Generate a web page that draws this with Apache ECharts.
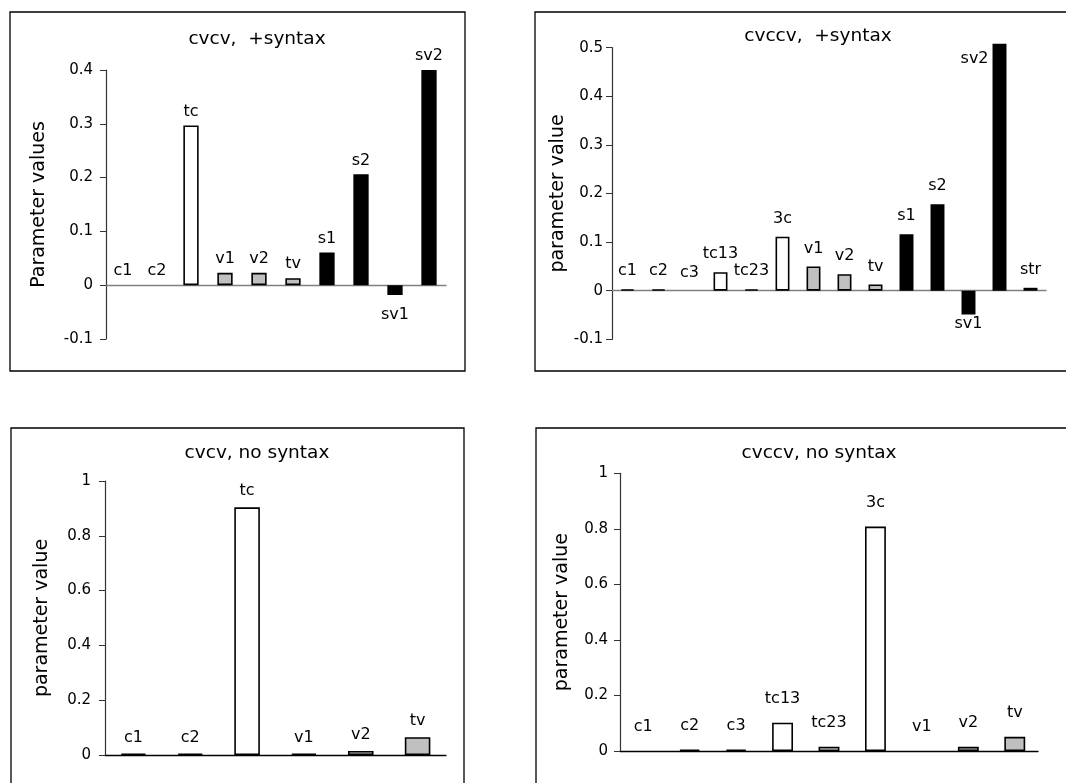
<!DOCTYPE html>
<html>
<head>
<meta charset="utf-8">
<script src="https://cdn.jsdelivr.net/npm/echarts@6/dist/echarts.min.js"></script>
<style>
html,body{margin:0;padding:0;background:#fff;}
#chart{width:1066px;height:783px;}
</style>
</head>
<body>
<div id="chart"></div>
<script>
// ---- data ----
const P1_TITLE = 'cvcv,  +syntax';
const P1_CATS = ['c1','c2','tc','v1','v2','tv','s1','s2','sv1','sv2'];
const P1_VALS = [0, 0, 0.297, 0.023, 0.023, 0.013, 0.061, 0.206, -0.018, 0.400];

const P2_TITLE = 'cvccv,  +syntax';
const P2_CATS = ['c1','c2','c3','tc13','tc23','3c','v1','v2','tv','s1','s2','sv1','sv2','str'];
const P2_VALS = [0.003, 0.003, 0, 0.038, 0.003, 0.111, 0.050, 0.034, 0.013, 0.116, 0.178, -0.049, 0.508, 0.006];

const P3_TITLE = 'cvcv, no syntax';
const P3_CATS = ['c1','c2','tc','v1','v2','tv'];
const P3_VALS = [0.005, 0.005, 0.904, 0.005, 0.015, 0.065];

const P4_TITLE = 'cvccv, no syntax';
const P4_CATS = ['c1','c2','c3','tc13','tc23','3c','v1','v2','tv'];
const P4_VALS = [0, 0.005, 0.005, 0.102, 0.015, 0.808, 0, 0.015, 0.051];

const Y_NAMES = ['Parameter values', 'parameter value', 'parameter value', 'parameter value'];
const Y_RANGES = [[-0.1, 0.4, 0.1], [-0.1, 0.5, 0.1], [0, 1, 0.2], [0, 1, 0.2]];

// ---- styling / layout ----
const FONT = '"DejaVu Sans", "Liberation Sans", Arial, sans-serif';
function fillFor(name) {
  if (name === 'str') return '#e4e4e4';
  if (name.charAt(0) === 's') return '#000000';
  if (name === 'v1' || name === 'v2' || name === 'tv') return '#c0c0c0';
  if (name === 'tc' || name === 'tc13' || name === 'tc23' || name === '3c') return '#ffffff';
  return '#000000';
}

const panels = [
  {title: P1_TITLE, cats: P1_CATS, vals: P1_VALS, grid: {left: 106, top: 70, width: 340, height: 269},
   titlePos: [257, 29.5], nameGap: 57, labelMargin: 13, xLine: '#808080', dist: 6, negDist: 12, frame: [10, 12, 455, 359]},
  {title: P2_TITLE, cats: P2_CATS, vals: P2_VALS, grid: {left: 612, top: 47.7, width: 434, height: 291.6},
   titlePos: [818, 27], nameGap: 44, labelMargin: 9, xLine: '#808080', dist: 10, negDist: 1, frame: [535, 12, 540, 359]},
  {title: P3_TITLE, cats: P3_CATS, vals: P3_VALS, grid: {left: 105, top: 481, width: 341, height: 274},
   titlePos: [257, 444], nameGap: 53, labelMargin: 14, xLine: '#000000', dist: 8, negDist: 5, frame: [11, 428, 453, 400]},
  {title: P4_TITLE, cats: P4_CATS, vals: P4_VALS, grid: {left: 620, top: 473.3, width: 418, height: 277.7},
   titlePos: [819, 444], nameGap: 48, labelMargin: 12, xLine: '#000000', dist: 16, negDist: 5, frame: [536, 428, 540, 400]}
];

const option = {
  backgroundColor: '#ffffff',
  animation: false,
  textStyle: {fontFamily: FONT},
  title: [], grid: [], xAxis: [], yAxis: [], series: [],
  graphic: []
};

panels.forEach(function (p, i) {
  option.graphic.push({
    type: 'rect', z: -1, silent: true,
    shape: {x: p.frame[0], y: p.frame[1], width: p.frame[2], height: p.frame[3]},
    style: {fill: 'none', stroke: '#000', lineWidth: 1.3}
  });
  option.title.push({
    text: p.title, left: p.titlePos[0], top: p.titlePos[1], textAlign: 'center', padding: 0,
    textStyle: {fontFamily: FONT, fontSize: 18.5, fontWeight: 'normal', color: '#000'}
  });
  option.grid.push(Object.assign({containLabel: false}, p.grid));
  option.xAxis.push({
    type: 'category', gridIndex: i, data: p.cats,
    axisLine: {onZero: true, lineStyle: {color: p.xLine, width: 1.3}},
    axisTick: {show: false}, axisLabel: {show: false}, splitLine: {show: false}
  });
  const r = Y_RANGES[i];
  option.yAxis.push({
    type: 'value', gridIndex: i, min: r[0], max: r[1], interval: r[2],
    name: Y_NAMES[i], nameLocation: 'middle', nameGap: p.nameGap, nameRotate: 90,
    nameTextStyle: {fontFamily: FONT, fontSize: 19, color: '#000'},
    axisLine: {show: true, lineStyle: {color: '#333', width: 1.2}},
    axisTick: {show: true, length: 6, lineStyle: {color: '#333', width: 1}},
    axisLabel: {fontFamily: FONT, fontSize: 15, color: '#000', margin: p.labelMargin},
    splitLine: {show: false}
  });
  const data = p.vals.map(function (v, k) {
    const name = p.cats[k];
    const item = {
      value: v,
      itemStyle: {color: fillFor(name), borderColor: '#000', borderWidth: v === 0 ? 0 : 1.6},
      label: v < 0 ? {position: 'bottom', distance: p.negDist} : {position: 'top'}
    };
    if (i === 1 && name === 'sv2') {
      item.label = {position: 'left', offset: [0, -108], distance: 4};
    }
    return item;
  });
  option.series.push({
    type: 'bar', xAxisIndex: i, yAxisIndex: i, data: data,
    barWidth: '45%', clip: false,
    label: {show: true, formatter: '{b}', distance: p.dist,
      fontFamily: FONT, fontSize: 16, color: '#000'}
  });
});

const chart = echarts.init(document.getElementById('chart'), null, {renderer: 'canvas'});
chart.setOption(option);
</script>
</body>
</html>
